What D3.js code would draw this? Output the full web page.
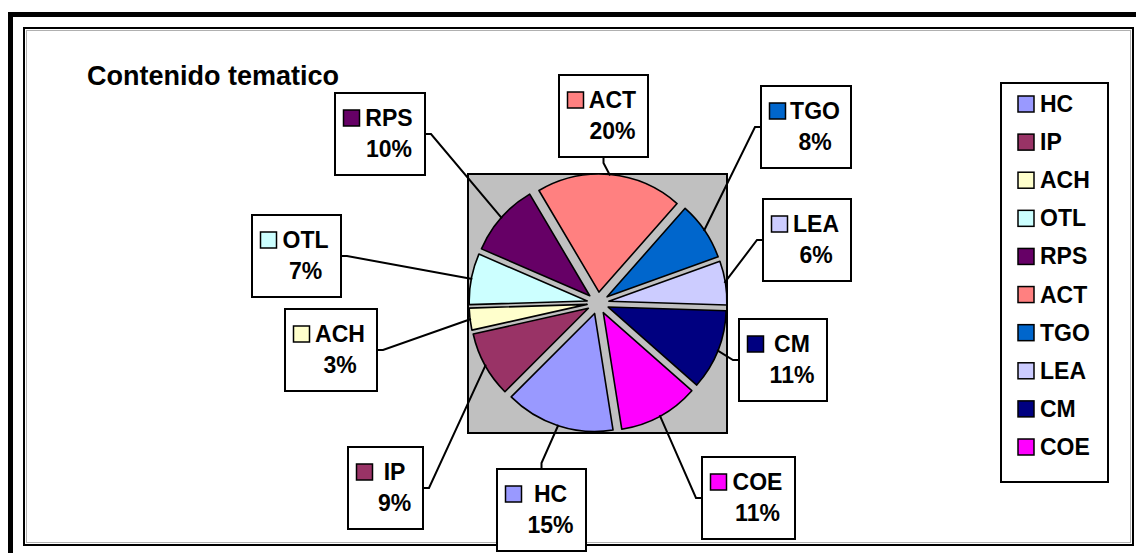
<!DOCTYPE html>
<html><head><meta charset="utf-8">
<script src="https://cdn.jsdelivr.net/npm/d3@7"></script>
<style>
html,body{margin:0;padding:0;background:#fff;}
svg{display:block;}
text{font-family:"Liberation Sans",Arial,sans-serif;font-weight:bold;fill:#000;}
</style></head>
<body>
<svg id="chart" width="1136" height="553"></svg>
<script>
// ---- data ----
const categories = ["HC","IP","ACH","OTL","RPS","ACT","TGO","LEA","CM","COE"];
const values = [15, 9, 3, 7, 10, 20, 8, 6, 11, 11];
const colors = ["#9999FF","#993366","#FFFFCC","#CCFFFF","#660066","#FF8080","#0066CC","#CCCCFF","#000080","#FF00FF"];
const title = "Contenido tematico";

// ---- layout (label boxes) ----
const labelLayout = {
  RPS:{x:335,y:93,w:90,side:"right"},
  ACT:{x:559,y:75,w:89,side:"bottom"},
  TGO:{x:761,y:86,w:90,side:"left"},
  LEA:{x:763,y:199,w:88,side:"left"},
  CM:{x:739,y:319,w:88,side:"left"},
  COE:{x:702,y:457,w:93,side:"left"},
  HC:{x:497,y:469,w:89,side:"top"},
  IP:{x:348,y:447,w:75,side:"right"},
  ACH:{x:285,y:309,w:92,side:"right"},
  OTL:{x:252,y:215,w:89,side:"right"}
};

const svg = d3.select("#chart");

// outer thick border
svg.append("rect").attr("x",10.5).attr("y",14.5).attr("width",1200).attr("height",600)
  .attr("fill","none").attr("stroke","#000").attr("stroke-width",5);
// inner frame
svg.append("rect").attr("x",24).attr("y",28).attr("width",1109).attr("height",517)
  .attr("fill","#fff").attr("stroke","#000").attr("stroke-width",2);
svg.append("rect").attr("x",26.5).attr("y",30.5).attr("width",1104).attr("height",512)
  .attr("fill","none").attr("stroke","#b0b0b0").attr("stroke-width",1);

// title
svg.append("text").attr("x",87).attr("y",85).style("font-size","27px").text(title);

// plot area
const cx = 598, cy = 303, r = 118, explode = 11;
svg.append("rect").attr("x",468).attr("y",174).attr("width",259).attr("height",259)
  .attr("fill","#C0C0C0").attr("stroke","#000").attr("stroke-width",2);

const startAngle = 171 * Math.PI / 180;
const pie = d3.pie().sort(null).value(d => d.v)
  .startAngle(startAngle).endAngle(startAngle + 2 * Math.PI);
const data = categories.map((c, i) => ({name:c, v:values[i], color:colors[i]}));
const arcs = pie(data);
const arc = d3.arc().innerRadius(0).outerRadius(r);

const g = svg.append("g").attr("transform", `translate(${cx},${cy})`);
g.selectAll("path").data(arcs).join("path")
  .attr("d", arc)
  .attr("transform", d => {
    const m = (d.startAngle + d.endAngle) / 2;
    return `translate(${explode * Math.sin(m)},${-explode * Math.cos(m)})`;
  })
  .attr("fill", d => d.data.color)
  .attr("stroke", "#000").attr("stroke-width", 1.6).attr("stroke-linejoin","round");

// leader lines and label boxes
const pct = d3.format(".0%");
const total = d3.sum(values);
const boxH = 82;
arcs.forEach(d => {
  const L = labelLayout[d.data.name];
  const m = (d.startAngle + d.endAngle) / 2;
  const ex = cx + (r + explode - 1) * Math.sin(m);
  const ey = cy - (r + explode - 1) * Math.cos(m);
  let ax, ay, bx, by;
  if (L.side === "right") { ax = L.x + L.w; ay = L.y + boxH / 2; bx = ax + 6; by = ay; }
  else if (L.side === "left") { ax = L.x; ay = L.y + boxH / 2; bx = ax - 6; by = ay; }
  else if (L.side === "top") { ax = L.x + L.w / 2; ay = L.y; bx = ax; by = ay - 6; }
  else { ax = L.x + L.w / 2; ay = L.y + boxH; bx = ax; by = ay + 6; }
  svg.append("path").attr("d", d3.line()([[ax, ay], [bx, by], [ex, ey]]))
    .attr("fill", "none").attr("stroke", "#000").attr("stroke-width", 2);
});
arcs.forEach(d => {
  const L = labelLayout[d.data.name];
  const bg = svg.append("g");
  bg.append("rect").attr("x", L.x).attr("y", L.y).attr("width", L.w).attr("height", boxH)
    .attr("fill", "#fff").attr("stroke", "#000").attr("stroke-width", 2);
  const tx = L.x + L.w / 2 + 9;
  bg.append("rect").attr("x", L.x + 8.5).attr("y", L.y + 17).attr("width", 16).attr("height", 16)
    .attr("fill", d.data.color).attr("stroke", "#000").attr("stroke-width", 1.5);
  bg.append("text").attr("x", tx).attr("y", L.y + 33).attr("text-anchor", "middle")
    .style("font-size", "23px").text(d.data.name);
  bg.append("text").attr("x", tx).attr("y", L.y + 64).attr("text-anchor", "middle")
    .style("font-size", "23px").text(pct(d.data.v / total));
});

// legend
const lg = svg.append("g");
lg.append("rect").attr("x", 1001).attr("y", 83).attr("width", 107).attr("height", 399)
  .attr("fill", "#fff").attr("stroke", "#000").attr("stroke-width", 2);
const rowY = d3.scalePoint().domain(categories).range([112, 455]);
categories.forEach((c, i) => {
  const y = rowY(c);
  lg.append("rect").attr("x", 1018).attr("y", y - 16).attr("width", 16).attr("height", 16)
    .attr("fill", colors[i]).attr("stroke", "#000").attr("stroke-width", 1.5);
  lg.append("text").attr("x", 1040).attr("y", y).style("font-size", "23px").text(c);
});
</script>
</body></html>
